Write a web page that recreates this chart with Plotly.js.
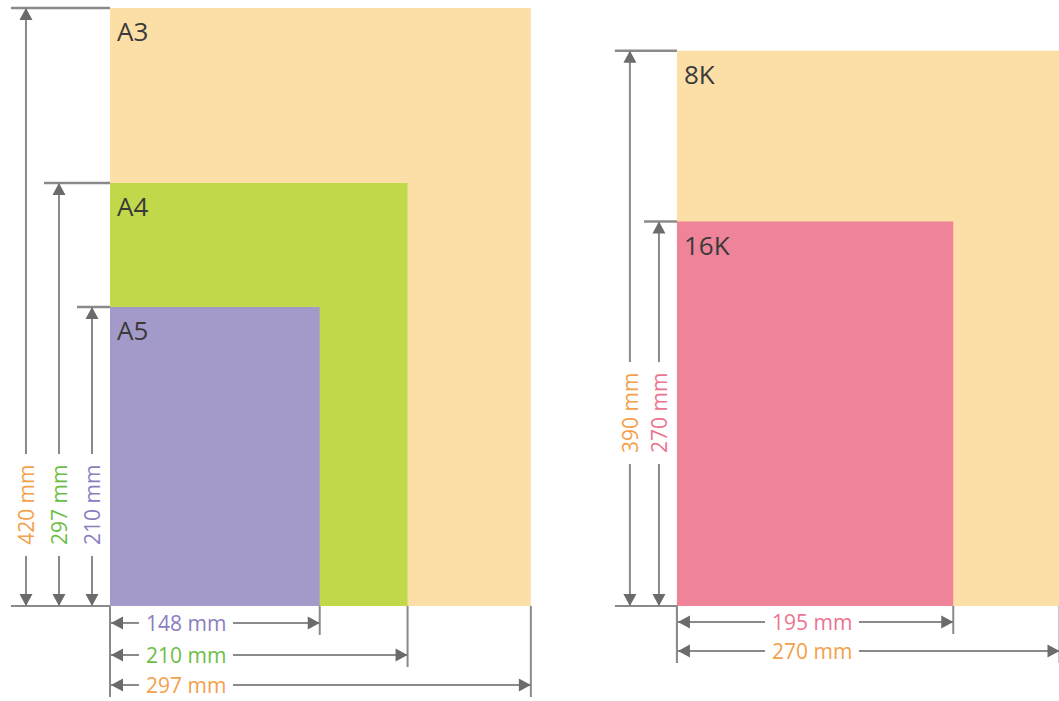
<!DOCTYPE html>
<html><head><meta charset="utf-8">
<script src="https://cdn.plot.ly/plotly-3.0.1.min.js"></script>
<style>html,body{margin:0;padding:0;background:#fff}#chart{width:1059px;height:701px}</style>
</head><body><div id="chart"></div>
<script>
// ---- data ----
const papers = ['A3', 'A4', 'A5', '8K', '16K'];
const widthsMM = [297, 210, 148, 270, 195];
const heightsMM = [420, 297, 210, 390, 270];
const groupOf = [0, 0, 0, 1, 1];
const unit = 'mm';

// ---- styles / layout constants ----
const fillColors = ['#FCDFA6', '#C2D84B', '#A49ACA', '#FCDFA6', '#EE8399'];
const dimColors = ['#F5A04A', '#6DBE45', '#8A80C0', '#F5A04A', '#EC7490'];
const groupOrigin = [0, 400.1];          // mm, left edge of each group
const vDimX = [-59.3, -36, -12.7, -33.2, -12.7]; // mm relative to group origin
const hDimY = [-55.5, -34.4, -11.9, -31.6, -11.2]; // mm below baseline
const vLabelY = [71, 135.5];
const hLabelX = [53.6, 95.3];
const kx = 1.417, ky = 1.424; // px per mm
const X0 = 110, Y0 = 606, W = 1059, H = 701;
const lineCol = '#8a8a8a', headCol = '#6b6b6b';
const FONT = 'Open Sans, Noto Sans, sans-serif';
const vGap = 51, hGap = 47; // half gaps in px around labels

const shapes = [], annotations = [];
const pxX = v => v / kx, pxY = v => v / ky;

function line(x0, y0, x1, y1, w) {
  shapes.push({type: 'line', xref: 'x', yref: 'y', x0, y0, x1, y1,
    line: {color: lineCol, width: w || 2}, layer: 'above'});
}
function head(tx, ty, dir) {
  let p;
  if (dir === 'up' || dir === 'down') {
    const L = pxY(12) * (dir === 'up' ? -1 : 1), Wd = pxX(6.5);
    p = `M ${tx},${ty} L ${tx - Wd},${ty + L} L ${tx + Wd},${ty + L} Z`;
  } else {
    const L = pxX(12) * (dir === 'left' ? 1 : -1), Wd = pxY(6.5);
    p = `M ${tx},${ty} L ${tx + L},${ty - Wd} L ${tx + L},${ty + Wd} Z`;
  }
  shapes.push({type: 'path', xref: 'x', yref: 'y', path: p, fillcolor: headCol,
    line: {width: 0}, layer: 'above'});
}

// rectangles
papers.forEach((name, i) => {
  const ox = groupOrigin[groupOf[i]];
  shapes.push({type: 'rect', xref: 'x', yref: 'y', x0: ox, x1: ox + widthsMM[i], y0: 0, y1: heightsMM[i],
    fillcolor: fillColors[i], line: {width: 0}, layer: 'below'});
  annotations.push({x: ox, y: heightsMM[i], xref: 'x', yref: 'y', text: name, showarrow: false,
    xanchor: 'left', yanchor: 'top', xshift: 5, yshift: -3,
    font: {family: FONT, size: 26, color: '#3a3a3a'}});
});

// dimension lines
papers.forEach((name, i) => {
  const g = groupOf[i], ox = groupOrigin[g], w = widthsMM[i], h = heightsMM[i];
  const vx = ox + vDimX[i];
  line(vx - pxX(15), h, ox, h, 2.5);
  line(vx - pxX(15), 0, ox, 0, 2);
  const ly = vLabelY[g];
  line(vx, ly + pxY(vGap), vx, h, 2);
  line(vx, 0, vx, ly - pxY(vGap), 2);
  head(vx, h, 'up');
  head(vx, 0, 'down');
  annotations.push({x: vx, y: ly, xref: 'x', yref: 'y', text: h + ' ' + unit,
    showarrow: false, textangle: -90,
    font: {family: FONT, size: 21, color: dimColors[i]}});
  const hy = hDimY[i];
  const lowest = Math.min(...hDimY.filter((_, j) => groupOf[j] === g));
  line(ox, 0, ox, lowest - pxY(12), 2);
  line(ox + w, 0, ox + w, hy - pxY(12), 2);
  const lx = ox + hLabelX[g];
  line(ox, hy, lx - pxX(hGap), hy, 2);
  line(lx + pxX(hGap), hy, ox + w, hy, 2);
  head(ox + pxX(1), hy, 'left');
  head(ox + w, hy, 'right');
  annotations.push({x: lx, y: hy, xref: 'x', yref: 'y', text: w + ' ' + unit,
    showarrow: false,
    font: {family: FONT, size: 21, color: dimColors[i]}});
});

const layout = {
  width: W, height: H, margin: {l: 0, r: 0, t: 0, b: 0},
  paper_bgcolor: '#ffffff', plot_bgcolor: '#ffffff',
  xaxis: {range: [-X0 / kx, (W - X0) / kx], visible: false, fixedrange: true},
  yaxis: {range: [-(H - Y0) / ky, Y0 / ky], visible: false, fixedrange: true},
  shapes, annotations, showlegend: false
};
Plotly.newPlot('chart', [{x: [], y: [], type: 'scatter', hoverinfo: 'skip'}], layout, {displayModeBar: false, staticPlot: true});
</script></body></html>
